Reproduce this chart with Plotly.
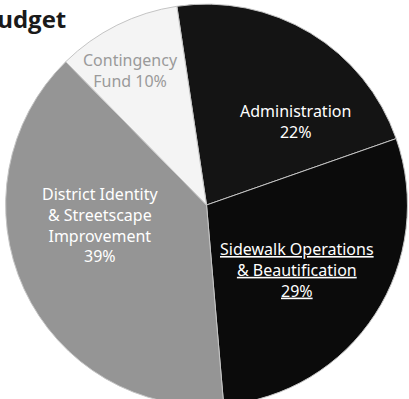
import plotly.graph_objects as go

# Budget shares (percent), in clockwise order starting near 12 o'clock
categories = [
    "Administration",
    "Sidewalk Operations<br>& Beautification",
    "District Identity<br>& Streetscape<br>Improvement",
    "Contingency<br>Fund",
]
shares = [22, 29, 39, 10]
slice_colors = ["#141414", "#0b0b0b", "#959595", "#f4f4f4"]
text_colors = ["#ffffff", "#ffffff", "#ffffff", "#9a9a9a"]

W, H = 409, 410

fig = go.Figure(
    go.Pie(
        labels=categories,
        values=shares,
        sort=False,
        direction="clockwise",
        rotation=-8.5,
        marker=dict(colors=slice_colors, line=dict(color="#c4c4c4", width=1)),
        textinfo="none",
        hoverinfo="label+percent",
        domain=dict(x=[0.01, 1], y=[0.01, 0.99]),
        showlegend=False,
    )
)

# slice labels: name and share, placed in each wedge
label_pos = [(295, 121), (297, 270), (100, 225), (130, 71)]
underline = [False, True, False, False]
for name, val, (px, py), col, ul in zip(categories, shares, label_pos, text_colors, underline):
    lines = name.split("<br>")
    if name.startswith("Contingency"):
        lines = [lines[0], f"{lines[1]} {val}%"]
    else:
        lines = lines + [f"{val}%"]
    if ul:
        lines = [f"<u>{s}</u>" for s in lines]
    fig.add_annotation(
        x=px / W, y=1 - py / H, xref="paper", yref="paper",
        text="<br>".join(lines), showarrow=False,
        font=dict(family="Noto Sans", size=16, color=col),
        align="center", xanchor="center", yanchor="middle",
    )

# chart title, its left part runs off the page edge
fig.add_annotation(
    x=68 / W, y=1 - 0 / H, xref="paper", yref="paper",
    text="<b>Budget</b>", showarrow=False,
    font=dict(family="Open Sans", size=24, color="#1a1a1a"),
    xanchor="right", yanchor="top",
)

fig.update_layout(
    width=W, height=H,
    margin=dict(l=0, r=0, t=0, b=0),
    paper_bgcolor="white", plot_bgcolor="white",
)

fig.write_html(
    "out.html",
    post_script="document.body.style.margin='0';document.body.style.overflow='hidden';",
)
